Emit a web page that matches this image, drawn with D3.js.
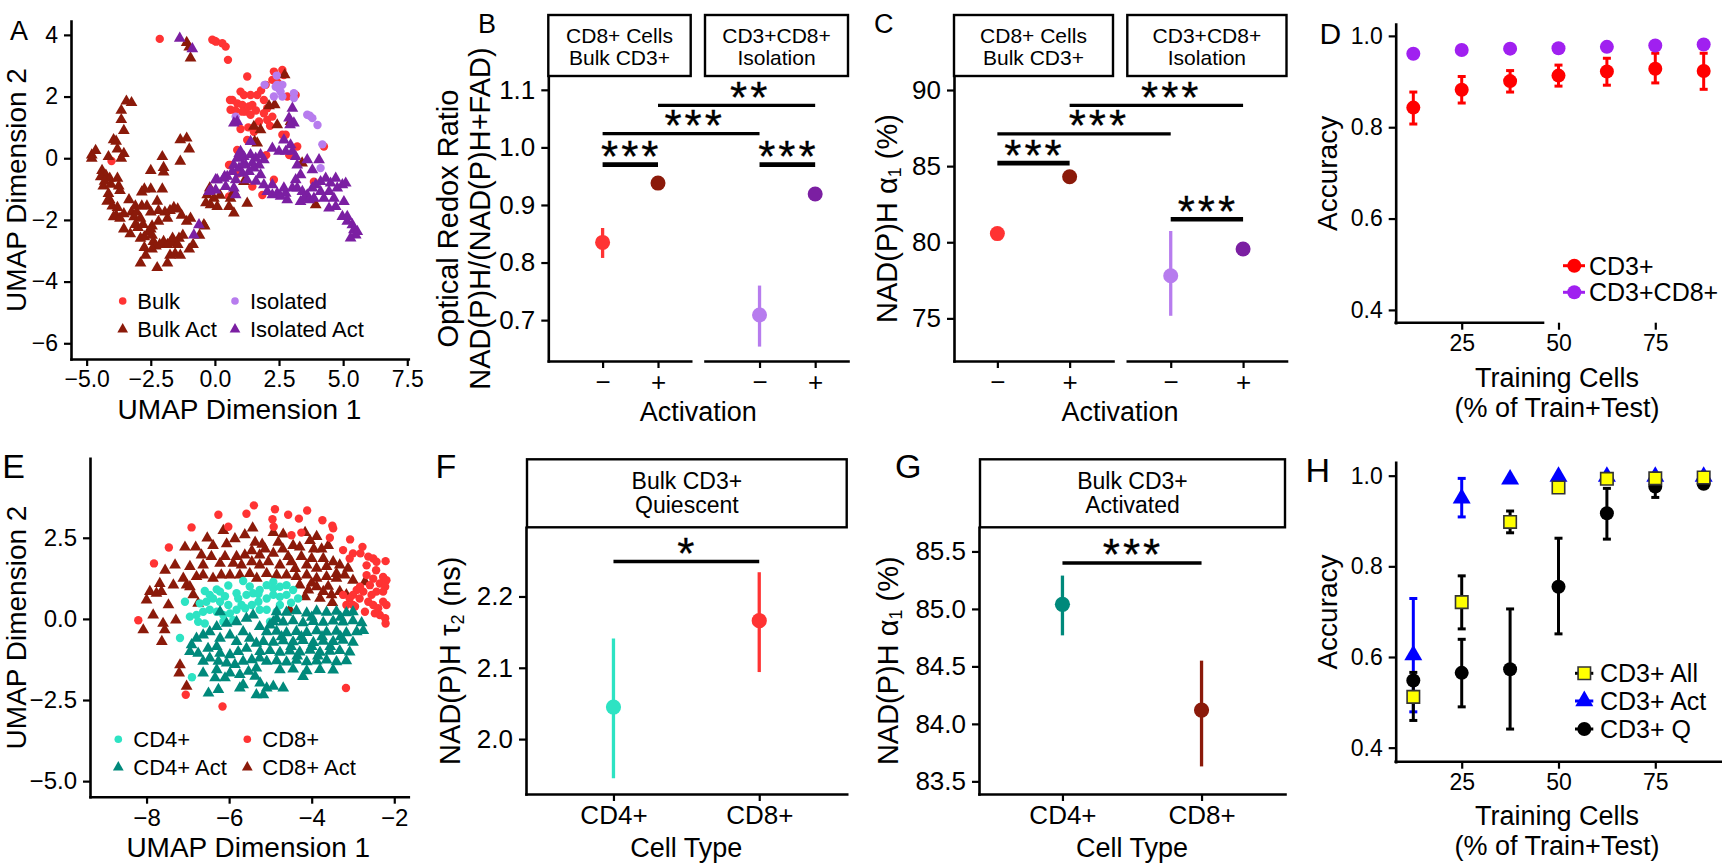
<!DOCTYPE html>
<html><head><meta charset="utf-8">
<script src="https://cdn.jsdelivr.net/npm/d3@7"></script>
<style>
body{margin:0;background:#fff}
svg{display:block}
text{font-family:"Liberation Sans",Arial,Helvetica,sans-serif;fill:#000}
</style></head>
<body><svg id="c" width="1722" height="865"></svg>
<script>
// ================= DATA =================
// Panel A: UMAP (x, y)
const aBulk = [[-2.15,3.87],[-0.1,3.84],[0.0,3.8],[0.05,3.78],[0.29,3.73],[0.42,3.62],[0.51,3.19],[1.26,2.65],[2.3,2.81],[2.63,2.86],[2.69,2.7],[2.24,2.54],[1.98,2.38],[1.0,2.16],[1.13,2.05],[1.39,2.05],[1.65,2.05],[0.68,1.89],[0.87,1.78],[1.07,1.73],[1.33,1.68],[1.46,1.73],[1.2,1.51],[1.39,1.41],[1.91,1.89],[2.04,1.62],[1.91,1.46],[2.04,1.24],[2.24,1.35],[2.82,2.0],[3.15,2.05],[2.63,0.76],[2.76,0.76],[1.26,0.59],[3.21,0.38],[0.87,0.27],[0.61,-0.22],[1.46,-0.92],[1.85,-1.19],[2.3,-0.7],[3.86,-0.76],[4.25,0.38],[1.07,1.51],[1.72,1.19],[1.52,0.86],[0.59,1.89],[0.61,1.57],[-4.03,-0.09],[0.55,-0.22],[0.55,-1.24],[1.8,2.2],[2.45,2.45],[0.8,1.55],[1.6,1.55],[2.15,1.05],[2.9,0.1],[1.0,0.95],[1.3,1.0],[0.9,-0.5],[2.0,0.1]];
const aBulkAct = [[-1.0,3.6],[-0.95,3.25],[-1.1,3.75],[-3.45,1.85],[-3.25,1.8],[-3.65,1.55],[-3.65,1.25],[-3.55,0.9],[-3.95,0.6],[-3.85,0.55],[-3.8,0.3],[-3.55,0.15],[-3.65,0.0],[-4.15,0.05],[-4.8,0.1],[-4.65,0.25],[-4.8,0.0],[-4.4,-0.4],[-4.25,-0.55],[-4.45,-0.6],[-4.1,-0.65],[-4.35,-0.9],[-3.8,-0.65],[-3.75,-0.9],[-3.7,-1.05],[-4.15,-1.15],[-4.1,-1.35],[-4.2,-1.4],[-4.0,-1.55],[-3.8,-1.6],[-3.85,-1.85],[-3.95,-1.9],[-3.7,-1.95],[-3.55,-1.8],[-3.35,-1.35],[-3.25,-1.75],[-3.15,-1.9],[-3.05,-1.75],[-2.85,-1.55],[-2.85,-1.1],[-2.65,-1.55],[-2.5,-1.75],[-3.55,-2.3],[-3.3,-2.45],[-3.1,-2.15],[-3.0,-2.25],[-2.8,-2.15],[-2.9,-2.6],[-2.75,-2.55],[-2.6,-2.4],[-2.5,-2.3],[-2.45,-2.5],[-2.4,-2.7],[-2.3,-2.85],[-2.15,-2.8],[-2.0,-2.7],[-1.85,-2.8],[-1.75,-2.75],[-1.6,-2.7],[-1.45,-2.8],[-1.4,-2.6],[-1.25,-2.5],[-1.65,-2.6],[-1.1,-2.05],[-0.95,-1.95],[-1.3,-1.85],[-1.45,-1.65],[-1.6,-1.6],[-1.75,-1.7],[-1.95,-1.75],[-2.2,-1.7],[-2.25,-1.4],[-2.05,-1.0],[-2.5,-1.0],[-2.75,-1.0],[-2.5,-0.4],[-2.05,0.05],[-2.0,-0.3],[-2.0,-0.45],[-1.35,-0.1],[-1.0,0.3],[-1.35,0.6],[-1.1,0.65],[-2.75,-2.9],[-2.7,-3.15],[-2.9,-3.4],[-2.25,-3.55],[-1.85,-3.4],[-1.75,-3.15],[-1.0,-2.95],[-0.85,-2.8],[-0.4,-2.2],[-0.6,-2.5],[-1.35,-3.15],[-1.55,-3.1],[-2.45,-2.95],[-2.45,-2.2],[-2.2,-2.05],[-1.85,-1.95],[-2.9,-1.95],[-3.1,-1.55],[-4.3,-0.75],[-4.05,-0.85],[2.72,2.7],[2.11,1.7],[2.33,1.73],[1.52,1.03],[1.78,0.92],[2.43,1.08],[1.55,0.54],[1.65,0.49],[2.95,1.19],[3.4,-0.16],[-0.2,-0.97],[-0.3,-1.19],[-0.04,-1.3],[-0.17,-1.51],[0.09,-1.57],[0.55,-1.57],[0.61,-1.3],[0.74,-1.78],[1.26,-1.46],[1.13,-0.76],[0.74,-1.08],[3.93,-1.51],[-0.43,-2.16],[0.2,-1.2],[-0.35,-1.45]];
const aIso = [[2.41,2.68],[1.94,2.38],[2.37,2.32],[2.63,2.38],[2.3,2.0],[2.63,2.0],[3.08,2.11],[3.08,1.95],[3.6,1.41],[3.8,1.3],[4.0,1.08],[4.19,0.45],[4.12,-0.32],[0.81,1.35],[2.56,2.16],[2.43,2.38],[2.5,2.25],[3.7,1.38]];
const aIsoAct = [[-1.37,3.89],[-0.88,3.55],[-0.62,-2.16],[-0.82,-2.49],[-0.17,-1.03],[0.03,-0.7],[0.38,-0.59],[0.87,1.19],[0.74,1.14],[3.02,1.62],[2.89,1.3],[3.08,1.14],[2.93,1.08],[1.39,0.54],[2.69,0.59],[2.95,0.43],[2.24,0.32],[2.5,0.22],[2.76,0.22],[3.02,0.22],[3.15,0.05],[3.21,-0.22],[3.6,-0.05],[4.06,-0.05],[3.8,-0.38],[3.34,-0.54],[3.15,-0.7],[1.0,0.22],[0.87,0.0],[1.13,0.05],[1.39,0.11],[1.59,0.0],[1.78,0.11],[1.91,-0.05],[0.74,-0.22],[0.94,-0.32],[1.2,-0.22],[1.46,-0.16],[1.72,-0.22],[0.68,-0.43],[1.07,-0.49],[1.33,-0.43],[1.52,-0.32],[1.78,-0.54],[0.48,-0.59],[0.35,-0.65],[0.09,-0.7],[0.81,-0.7],[0.42,-0.92],[0.74,-0.97],[0.81,-1.19],[0.03,-1.03],[-0.23,-1.08],[1.91,-0.86],[2.24,-0.86],[2.43,-1.14],[2.76,-1.14],[2.69,-0.97],[3.02,-0.97],[3.21,-0.97],[3.41,-1.08],[3.34,-1.41],[3.6,-1.19],[3.8,-0.97],[3.93,-0.86],[4.12,-0.76],[4.32,-0.65],[4.51,-0.81],[4.71,-0.65],[4.97,-0.86],[5.1,-0.81],[4.77,-0.97],[4.45,-1.08],[4.12,-1.08],[4.25,-1.3],[4.64,-1.3],[4.71,-1.57],[4.45,-1.62],[5.03,-1.41],[4.97,-1.89],[5.16,-2.05],[5.36,-2.16],[5.42,-2.32],[5.49,-2.49],[5.29,-2.59],[5.55,-2.38],[5.16,-1.89],[3.47,-1.3],[3.67,-1.35],[3.86,-1.3],[2.82,-1.35],[2.56,-1.24],[2.24,-1.19],[2.04,-1.08],[1.25,-0.7],[1.6,-0.75],[1.1,-0.2],[0.95,0.15]];

// Panel B: optical redox ratio, facets x activation (-, +)
const bFacets = [["CD8+ Cells","Bulk CD3+"],["CD3+CD8+","Isolation"]];
const activation = ["\u2212","+"];
const bMean = [[0.835,0.938],[0.709,0.919]];
const bLow  = [[0.808,0.936],[0.654,0.917]];
const bHigh = [[0.860,0.940],[0.760,0.921]];
const bSig = [{a:[0,1],b:[0,2],y:0.970,lab:"***"},{a:[0,1],b:[1,1],y:1.024,lab:"***"},{a:[0,2],b:[1,2],y:1.073,lab:"**"},{a:[1,1],b:[1,2],y:0.970,lab:"***"}];

// Panel C: NAD(P)H alpha1 (%)
const cMean = [[80.57,84.30],[77.80,79.56]];
const cLow  = [[80.40,84.15],[75.17,79.45]];
const cHigh = [[80.74,84.45],[80.74,79.67]];
const cSig = [{a:[0,1],b:[0,2],y:85.2,lab:"***"},{a:[0,1],b:[1,1],y:87.12,lab:"***"},{a:[0,2],b:[1,2],y:88.99,lab:"***"},{a:[1,1],b:[1,2],y:81.51,lab:"***"}];

// Panel D: accuracy vs training cells
const trainPct = [12.5,25,37.5,50,62.5,75,87.5];
const dCD3   = [0.843,0.882,0.901,0.913,0.922,0.928,0.923];
const dCD3Lo = [0.807,0.853,0.877,0.890,0.892,0.897,0.883];
const dCD3Hi = [0.877,0.911,0.924,0.936,0.951,0.962,0.962];
const dCD8   = [0.961,0.969,0.972,0.973,0.976,0.979,0.981];
const dCD8Lo = [0.958,0.967,0.970,0.971,0.974,0.977,0.978];
const dCD8Hi = [0.964,0.971,0.974,0.975,0.978,0.981,0.984];

// Panel E: UMAP
const eCD4 = [[-5.66,1.17],[-6.02,1.03],[-6.22,0.84],[-6.3,0.91],[-6.59,0.86],[-6.47,0.74],[-7.07,0.53],[-6.71,0.48],[-6.55,0.53],[-6.39,0.63],[-6.22,0.53],[-6.02,0.43],[-5.82,0.79],[-5.78,0.63],[-5.58,0.74],[-5.42,0.79],[-5.26,0.89],[-5.09,1.04],[-4.93,0.94],[-4.77,0.99],[-4.61,1.04],[-4.45,0.89],[-4.33,0.63],[-4.61,0.74],[-4.77,0.68],[-4.93,0.74],[-5.09,0.63],[-5.29,0.53],[-5.45,0.43],[-5.61,0.33],[-5.82,0.28],[-5.98,0.17],[-6.14,0.12],[-6.3,0.22],[-6.47,0.28],[-6.63,0.22],[-6.79,0.12],[-6.95,0.07],[-6.75,-0.09],[-6.59,-0.14],[-6.14,-0.09],[-5.9,-0.04],[-5.01,-0.09],[-4.77,0.43],[-4.85,0.22],[-5.09,0.28],[-5.26,0.28],[-7.19,-0.59],[-4.93,1.14],[-5.29,0.77],[-5.7,0.43],[-6.1,0.7],[-5.5,1.0],[-4.5,0.5],[-6.9,-1.8]];
const eCD4Act = [[-4.85,0.22],[-4.61,0.2],[-4.37,0.25],[-4.12,0.18],[-3.88,0.24],[-3.64,0.2],[-3.4,0.23],[-3.16,0.19],[-3.0,0.22],[-4.93,-0.09],[-4.69,-0.1],[-4.45,-0.06],[-4.21,-0.12],[-3.96,-0.08],[-3.72,-0.11],[-3.48,-0.07],[-3.24,-0.1],[-3.0,-0.06],[-2.79,-0.12],[-5.09,-0.4],[-4.85,-0.38],[-4.61,-0.43],[-4.37,-0.39],[-4.12,-0.42],[-3.88,-0.37],[-3.64,-0.41],[-3.4,-0.38],[-3.16,-0.43],[-2.91,-0.4],[-2.75,-0.36],[-5.17,-0.7],[-4.93,-0.72],[-4.69,-0.68],[-4.45,-0.71],[-4.21,-0.67],[-3.96,-0.73],[-3.72,-0.69],[-3.48,-0.7],[-3.24,-0.66],[-3.0,-0.72],[-5.25,-1.01],[-5.01,-0.98],[-4.77,-1.03],[-4.53,-0.99],[-4.29,-1.02],[-4.04,-0.97],[-3.8,-1.03],[-3.56,-1.0],[-3.32,-0.98],[-3.08,-1.02],[-5.09,-1.31],[-4.85,-1.29],[-4.61,-1.33],[-4.37,-1.28],[-4.12,-1.32],[-3.88,-1.3],[-3.64,-1.27],[-3.4,-1.32],[-3.16,-1.29],[-4.77,-1.57],[-4.45,-1.55],[-4.12,-1.6],[-3.8,-1.56],[-3.48,-1.58],[-4.21,-1.78],[-4.73,-0.55],[-4.25,-0.55],[-3.75,-0.55],[-3.3,-0.55],[-4.5,-0.85],[-4.0,-0.85],[-3.55,-0.85],[-4.35,-1.15],[-3.85,-1.15],[-4.85,0.0],[-4.0,0.05],[-3.3,0.05],[-6.22,0.22],[-6.06,-0.14],[-5.82,-0.09],[-5.58,0.02],[-5.42,0.12],[-5.26,-0.24],[-6.3,-0.24],[-6.47,-0.4],[-6.63,-0.5],[-6.79,-0.6],[-6.91,-0.8],[-6.95,-1.01],[-6.75,-1.06],[-6.51,-0.91],[-6.3,-0.85],[-6.22,-0.6],[-5.98,-0.5],[-5.82,-0.7],[-5.66,-0.4],[-5.5,-0.6],[-5.34,-0.75],[-5.58,-0.91],[-5.78,-1.01],[-5.98,-1.11],[-6.22,-1.06],[-6.47,-1.21],[-6.63,-1.31],[-6.26,-1.31],[-6.06,-1.36],[-5.86,-1.41],[-5.66,-1.31],[-5.45,-1.26],[-5.26,-1.21],[-5.34,-1.52],[-5.53,-1.62],[-5.74,-1.72],[-5.98,-1.67],[-6.3,-1.57],[-6.63,-1.67],[-6.34,-1.82],[-6.1,-1.82],[-5.66,-2.03],[-5.37,-1.77],[-5.25,-1.98],[-5.09,-2.13],[-4.93,-2.08],[-4.69,-2.13],[-5.17,-2.34],[-5.34,-2.34],[-6.26,-2.18],[-6.5,-2.29],[-5.74,-2.13],[-5.01,-0.19]];
const eCD8 = [[-5.4,3.5],[-6.26,3.21],[-5.58,3.24],[-4.89,3.38],[-4.57,3.21],[-4.31,3.09],[-4.11,3.34],[-4.95,3.07],[-3.74,3.04],[-3.5,2.87],[-3.48,2.79],[-6.02,2.84],[-6.91,2.82],[-7.46,2.2],[-7.82,1.71],[-4.92,2.84],[-4.25,2.66],[-4.49,2.58],[-3.56,2.5],[-3.07,2.45],[-2.77,2.22],[-3.24,2.12],[-3.0,2.02],[-2.82,2.02],[-2.63,1.92],[-2.51,1.86],[-2.21,1.78],[-3.08,1.86],[-2.67,1.65],[-2.44,1.5],[-2.27,1.29],[-2.35,1.09],[-2.19,1.19],[-2.51,1.24],[-2.22,0.99],[-2.27,0.84],[-2.43,0.84],[-2.59,1.04],[-2.75,0.84],[-2.91,0.89],[-3.0,0.74],[-2.84,0.63],[-2.63,0.53],[-2.51,0.43],[-2.39,0.33],[-2.27,0.53],[-2.19,0.43],[-2.35,0.12],[-2.22,0.02],[-2.47,0.17],[-2.71,0.22],[-3.08,0.63],[-3.24,0.74],[-3.16,0.43],[-2.95,0.38],[-2.21,-0.14],[-2.83,0.99],[-2.67,1.35],[-2.43,1.76],[-8.2,-0.04],[-7.05,-2.34],[-6.16,-2.7],[-3.17,-2.13],[-2.55,0.74],[-3.0,0.43]];
const eCD8Act = [[-5.43,2.8],[-6.14,2.72],[-6.53,2.49],[-7.07,2.21],[-6.81,2.21],[-6.39,2.26],[-5.86,2.47],[-5.62,2.59],[-5.37,2.36],[-6.06,2.31],[-4.93,2.66],[-4.69,2.61],[-4.16,2.66],[-3.88,2.54],[-4.81,2.36],[-4.45,2.26],[-4.29,2.21],[-4.04,2.41],[-3.76,2.15],[-3.6,2.26],[-5.13,2.15],[-5.45,2.1],[-6.67,1.97],[-6.43,1.92],[-6.1,1.92],[-5.82,1.92],[-5.62,1.97],[-5.26,1.97],[-4.93,2.02],[-4.57,1.92],[-4.25,1.92],[-4.0,1.86],[-3.72,1.86],[-3.48,1.76],[-3.32,1.66],[-3.12,1.56],[-7.31,1.66],[-7.55,1.5],[-6.95,1.61],[-6.63,1.66],[-6.22,1.71],[-5.9,1.71],[-5.7,1.66],[-5.45,1.76],[-5.26,1.66],[-5.05,1.76],[-4.77,1.66],[-4.49,1.76],[-4.12,1.66],[-3.88,1.56],[-3.64,1.61],[-3.4,1.4],[-7.68,1.09],[-7.92,0.84],[-8.0,0.58],[-7.76,0.79],[-7.35,1.04],[-7.11,1.25],[-7.03,1.04],[-6.79,1.3],[-6.63,1.35],[-6.39,1.25],[-6.19,1.35],[-5.98,1.35],[-5.74,1.35],[-5.5,1.4],[-5.33,1.25],[-5.09,1.4],[-4.85,1.35],[-4.61,1.35],[-4.37,1.3],[-4.12,1.35],[-3.88,1.25],[-3.64,1.3],[-3.4,1.25],[-3.2,1.35],[-3.0,1.19],[-2.71,1.14],[-4.29,1.04],[-4.08,0.89],[-3.88,0.99],[-3.72,0.84],[-3.52,0.74],[-3.32,0.84],[-3.16,0.74],[-3.8,0.63],[-4.16,0.68],[-4.53,0.28],[-6.95,0.99],[-6.87,0.74],[-6.75,0.48],[-7.47,0.43],[-7.84,0.12],[-7.29,-0.04],[-7.6,-0.14],[-7.56,-0.34],[-8.08,-0.34],[-7.63,-0.7],[-7.19,-1.42],[-7.21,-1.67],[-7.03,-2.08],[-7.64,0.84],[-4.0,1.1],[-3.6,1.0],[-4.4,1.55],[-5.2,2.3],[-3.95,2.15],[-4.7,2.15],[-3.5,0.5]];

// Panel F: NAD(P)H tau2 (ns), Bulk CD3+ quiescent
const cellTypes = ["CD4+","CD8+"];
const fMean = [2.045,2.166];
const fLow  = [1.945,2.094];
const fHigh = [2.141,2.234];
const fSig = [{a:1,b:2,y:2.249,lab:"*"}];

// Panel G: NAD(P)H alpha1 (%), Bulk CD3+ activated
const gMean = [85.04,84.12];
const gLow  = [84.77,83.63];
const gHigh = [85.29,84.55];
const gSig = [{a:1,b:2,y:85.40,lab:"***"}];

// Panel H: accuracy vs training cells
const hAll   = [0.512,0.721,0.898,0.974,0.993,0.994,0.996];
const hAllLo = [0.500,0.662,0.874,0.965,0.986,0.990,0.991];
const hAllHi = [0.524,0.779,0.922,0.983,1.000,0.998,1.000];
const hAct   = [0.604,0.950,0.992,0.998,0.998,0.998,0.998];
const hActLo = [0.479,0.909,0.990,0.996,0.996,0.996,0.996];
const hActHi = [0.729,0.994,0.994,1.000,1.000,1.000,1.000];
const hQ     = [0.548,0.565,0.573,0.755,0.917,0.976,0.982];
const hQLo   = [0.460,0.490,0.441,0.651,0.860,0.952,0.976];
const hQHi   = [0.566,0.639,0.706,0.862,0.972,0.990,0.988];

// ================= STYLE =================
const RED="#FF3333", DRED="#8B1A0A", LPUR="#B77CEE", PUR="#7B1FA2",
      TURQ="#2DE3C3", TEAL="#00897B", DREDP="#FF0000", DPUR="#A020F0",
      YEL="#FFFF00", BLUE="#0000FF", BLK="#000000";
const FONT='"Liberation Sans", Arial, Helvetica, sans-serif';
const svg = d3.select("#c");
svg.append("rect").attr("width",1722).attr("height",865).attr("fill","#fff");

function styleAxis(g, fs){
  g.attr("font-family",FONT).attr("font-size",fs);
  g.select(".domain").attr("stroke","#000").attr("stroke-width",2.6).attr("stroke-linecap","square");
  g.selectAll(".tick line").attr("stroke","#000").attr("stroke-width",2.2);
  g.selectAll(".tick text").attr("fill","#000");
}
function axisLeft(scale, x, ticks, fmt, fs){
  const g = svg.append("g").attr("transform",`translate(${x},0)`)
    .call(d3.axisLeft(scale).tickValues(ticks).tickFormat(fmt).tickSize(7).tickSizeOuter(0).tickPadding(6));
  styleAxis(g, fs); return g;
}
function axisBottom(scale, y, ticks, fmt, fs){
  const g = svg.append("g").attr("transform",`translate(0,${y})`)
    .call(d3.axisBottom(scale).tickValues(ticks).tickFormat(fmt).tickSize(7).tickSizeOuter(0).tickPadding(5));
  styleAxis(g, fs); return g;
}
function txt(x,y,s,fs,anchor,rot){
  const t = svg.append("text").attr("x",x).attr("y",y).attr("font-size",fs)
    .attr("text-anchor",anchor||"start").text(s);
  if(rot) t.attr("transform",`rotate(${rot},${x},${y})`);
  return t;
}
function rotTitle(x,y,parts,fs){
  const t = svg.append("text").attr("x",x).attr("y",y).attr("font-size",fs)
    .attr("text-anchor","middle").attr("transform",`rotate(-90,${x},${y})`);
  parts.forEach(p=>{
    const ts = t.append("tspan").text(p[0]);
    if(p[1]==="sub") ts.attr("font-size",fs*0.62).attr("baseline-shift","-22%");
  });
  return t;
}
const tri = (area)=>d3.symbol(d3.symbolTriangle, area)();
const sqr = (area)=>d3.symbol(d3.symbolSquare, area)();
function scatter(data,x,y,shape,color,r){
  const g = svg.append("g");
  if(shape==="circle"){
    g.selectAll("circle").data(data).join("circle")
      .attr("cx",d=>x(d[0])).attr("cy",d=>y(d[1])).attr("r",r).attr("fill",color);
  } else {
    g.selectAll("path").data(data).join("path")
      .attr("d",tri(r)).attr("transform",d=>`translate(${x(d[0])},${y(d[1])})`).attr("fill",color);
  }
}
function strip(x0,x1,y0,y1,lines,fs,b1,b2){
  svg.append("rect").attr("x",x0).attr("y",y0).attr("width",x1-x0).attr("height",y1-y0)
    .attr("fill","#fff").attr("stroke","#000").attr("stroke-width",2.4);
  txt((x0+x1)/2,b1,lines[0],fs,"middle");
  txt((x0+x1)/2,b2,lines[1],fs,"middle");
}
function sigBar(xa,xb,yb,lab,thick,frac){
  svg.append("line").attr("x1",xa).attr("x2",xb).attr("y1",yb).attr("y2",yb)
    .attr("stroke","#000").attr("stroke-width",thick);
  const fs=44;
  svg.append("text").attr("x",xa+(xb-xa)*frac+1).attr("y",yb-18+0.58*fs)
    .attr("font-size",fs).attr("text-anchor","middle").attr("letter-spacing",3)
    .attr("stroke","#000").attr("stroke-width",0.3).text(lab);
}
function vbar(x,y0,y1,color,w){
  svg.append("line").attr("x1",x).attr("x2",x).attr("y1",y0).attr("y2",y1)
    .attr("stroke",color).attr("stroke-width",w);
}
function capbar(x,y0,y1,color,w,cap){
  vbar(x,y0,y1,color,w);
  [y0,y1].forEach(yy=>svg.append("line").attr("x1",x-cap/2).attr("x2",x+cap/2).attr("y1",yy).attr("y2",yy)
    .attr("stroke",color).attr("stroke-width",w));
}
const f1 = d3.format(".1f");
const PT_TRI = 60, PT_R = 4.2;

// ================= PANEL A =================
{
  const x = d3.scaleLinear().domain([-5.61,7.54]).range([71,408.3]);
  const y = d3.scaleLinear().domain([-6.51,4.45]).range([359,21]);
  scatter(aBulk,x,y,"circle",RED,PT_R);
  scatter(aBulkAct,x,y,"tri",DRED,PT_TRI);
  scatter(aIso,x,y,"circle",LPUR,PT_R);
  scatter(aIsoAct,x,y,"tri",PUR,PT_TRI);
  axisLeft(y,71,[-6,-4,-2,0,2,4],d3.format("d"),23);
  axisBottom(x,359,[-5,-2.5,0,2.5,5,7.5],f1,23);
  txt(239.5,419.3,"UMAP Dimension 1",28,"middle");
  txt(26,190,"UMAP Dimension 2",28,"middle",-90);
  txt(10,40,"A",27);
  const lg=[["Bulk","circle",RED,122.7,301,137.3],["Isolated","circle",LPUR,235,301,250],
            ["Bulk Act","tri",DRED,122.7,329.3,137.3],["Isolated Act","tri",PUR,235,329.3,250]];
  lg.forEach(l=>{
    if(l[1]==="circle") svg.append("circle").attr("cx",l[3]).attr("cy",l[4]).attr("r",3.8).attr("fill",l[2]);
    else svg.append("path").attr("d",tri(50)).attr("transform",`translate(${l[3]},${l[4]})`).attr("fill",l[2]);
    txt(l[5],l[4]+7.5,l[0],22);
  });
}

// ================= FACETED DOT PANELS (B, C) =================
function facetPanel(opt){
  const facX = opt.facets;
  const y = d3.scaleLinear().domain(opt.ydom).range([opt.yb,opt.yt]);
  const xs = facX.map(f=>d3.scaleLinear().domain(opt.xdom).range(f));
  facX.forEach((f,i)=>strip(f[0],f[1],15,opt.yt,opt.stripTxt[i],21,42.5,64.5));
  axisLeft(y,facX[0][0],opt.yticks,opt.yfmt,26);
  xs.forEach(x=>axisBottom(x,opt.yb,[1,2],d=>activation[d-1],26));
  opt.sig.forEach(s=>{
    const same = s.a[0]===s.b[0];
    sigBar(xs[s.a[0]](s.a[1]),xs[s.b[0]](s.b[1]),y(s.y),s.lab,same?4.6:3.2,same?0.5:0.58);
  });
  for(let i=0;i<2;i++) for(let j=0;j<2;j++){
    const cx=xs[i](j+1);
    vbar(cx,y(opt.lo[i][j]),y(opt.hi[i][j]),opt.colors[i][j],3.3);
    svg.append("circle").attr("cx",cx).attr("cy",y(opt.mean[i][j])).attr("r",7.5).attr("fill",opt.colors[i][j]);
  }
}
facetPanel({facets:[[548.3,690.7],[705,848]],xdom:[0.02,2.59],ydom:[0.629,1.124],yt:76,yb:361,
  yticks:[0.7,0.8,0.9,1.0,1.1],yfmt:f1,stripTxt:bFacets,sig:bSig,mean:bMean,lo:bLow,hi:bHigh,
  colors:[[RED,DRED],[LPUR,PUR]]});
txt(458,218.5,"Optical Redox Ratio",29,"middle",-90);
txt(490,218.5,"NAD(P)H/(NAD(P)H+FAD)",29,"middle",-90);
txt(698.3,420.7,"Activation",27,"middle");
txt(478,33.3,"B",27);

facetPanel({facets:[[954,1113],[1127.3,1286.5]],xdom:[0.4,2.6],ydom:[72.2,90.92],yt:76,yb:361,
  yticks:[75,80,85,90],yfmt:d3.format("d"),stripTxt:bFacets,sig:cSig,mean:cMean,lo:cLow,hi:cHigh,
  colors:[[RED,DRED],[LPUR,PUR]]});
rotTitle(897,218.5,[["NAD(P)H "],["\u03B1"],["1","sub"],[" (%)"]],29);
txt(1120,420.7,"Activation",27,"middle");
txt(874,33.3,"C",27);

// ================= PANEL D =================
{
  const x = d3.scaleLinear().domain([7.95,91.2]).range([1395.7,1718]);
  const y = d3.scaleLinear().domain([0.372,1.026]).range([322.7,24]);
  axisLeft(y,1395.7,[0.4,0.6,0.8,1.0],f1,23);
  const gx = axisBottom(x,322.7,[25,50,75],d3.format("d"),23);
  gx.select(".domain").attr("d",`M${x(7.95)},0H${x(46)}`);
  trainPct.forEach((p,i)=>{
    capbar(x(p),y(dCD3Lo[i]),y(dCD3Hi[i]),DREDP,3,8);
    svg.append("circle").attr("cx",x(p)).attr("cy",y(dCD3[i])).attr("r",7).attr("fill",DREDP);
  });
  trainPct.forEach((p,i)=>{
    capbar(x(p),y(dCD8Lo[i]),y(dCD8Hi[i]),DPUR,3,8);
    svg.append("circle").attr("cx",x(p)).attr("cy",y(dCD8[i])).attr("r",7).attr("fill",DPUR);
  });
  [["CD3+",DREDP,265.7],["CD3+CD8+",DPUR,292.3]].forEach(l=>{
    svg.append("line").attr("x1",1563).attr("x2",1585).attr("y1",l[2]).attr("y2",l[2]).attr("stroke",l[1]).attr("stroke-width",3);
    svg.append("circle").attr("cx",1574.3).attr("cy",l[2]).attr("r",7).attr("fill",l[1]);
    txt(1589,l[2]+8.8,l[0],25);
  });
  txt(1337,173.4,"Accuracy",28,"middle",-90);
  txt(1557,386.7,"Training Cells",27,"middle");
  txt(1557,416.7,"(% of Train+Test)",27,"middle");
  txt(1319.5,44.3,"D",30);
}

// ================= PANEL E =================
{
  const x = d3.scaleLinear().domain([-9.37,-1.66]).range([90,408.3]);
  const y = d3.scaleLinear().domain([-5.48,4.95]).range([796.7,458.3]);
  scatter(eCD8Act,x,y,"tri",DRED,PT_TRI);
  scatter(eCD8,x,y,"circle",RED,PT_R);
  scatter(eCD4,x,y,"circle",TURQ,PT_R);
  scatter(eCD4Act,x,y,"tri",TEAL,PT_TRI);
  axisLeft(y,90,[-5,-2.5,0,2.5],f1,24);
  axisBottom(x,796.7,[-8,-6,-4,-2],d3.format("d"),24);
  txt(248.3,856.7,"UMAP Dimension 1",28,"middle");
  txt(26,627.5,"UMAP Dimension 2",28,"middle",-90);
  txt(2.3,478.3,"E",34);
  const lg=[["CD4+","circle",TURQ,118.3,739.3,133.3],["CD8+","circle",RED,247.3,739.3,262.3],
            ["CD4+ Act","tri",TEAL,118.3,767.3,133.3],["CD8+ Act","tri",DRED,247.3,767.3,262.3]];
  lg.forEach(l=>{
    if(l[1]==="circle") svg.append("circle").attr("cx",l[3]).attr("cy",l[4]).attr("r",3.8).attr("fill",l[2]);
    else svg.append("path").attr("d",tri(50)).attr("transform",`translate(${l[3]},${l[4]})`).attr("fill",l[2]);
    txt(l[5],l[4]+7.5,l[0],22);
  });
}

// ================= PANELS F, G =================
function twoDot(opt){
  const x = d3.scaleLinear().domain([0.4,2.6]).range([opt.x0,opt.x1]);
  const y = d3.scaleLinear().domain(opt.ydom).range([794,527.3]);
  strip(opt.x0+1,opt.x1,459.3,527.3,opt.strip,23,488.5,513.3);
  axisLeft(y,opt.x0,opt.yticks,f1,26);
  axisBottom(x,794,[1,2],d=>cellTypes[d-1],26);
  opt.sig.forEach(s=>sigBar(x(s.a),x(s.b),y(s.y),s.lab,3.6,0.5));
  [0,1].forEach(i=>{
    vbar(x(i+1),y(opt.lo[i]),y(opt.hi[i]),opt.colors[i],3.3);
    svg.append("circle").attr("cx",x(i+1)).attr("cy",y(opt.mean[i])).attr("r",7.6).attr("fill",opt.colors[i]);
  });
  txt((opt.x0+opt.x1)/2,857,"Cell Type",27,"middle");
}
twoDot({x0:526,x1:846.7,ydom:[1.923,2.297],yticks:[2.0,2.1,2.2],strip:["Bulk CD3+","Quiescent"],
  sig:fSig,mean:fMean,lo:fLow,hi:fHigh,colors:[TURQ,RED]});
rotTitle(460,660.7,[["NAD(P)H "],["\u03C4"],["2","sub"],[" (ns)"]],29);
txt(435.6,478.3,"F",34);
twoDot({x0:979,x1:1285,ydom:[83.39,85.71],yticks:[83.5,84.0,84.5,85.0,85.5],strip:["Bulk CD3+","Activated"],
  sig:gSig,mean:gMean,lo:gLow,hi:gHigh,colors:[TEAL,DRED]});
rotTitle(898,660.7,[["NAD(P)H "],["\u03B1"],["1","sub"],[" (%)"]],29);
txt(895,478.3,"G",34);

// ================= PANEL H =================
{
  const x = d3.scaleLinear().domain([7.95,91.2]).range([1395.7,1718]);
  const y = d3.scaleLinear().domain([0.369,1.0295]).range([761.7,462.3]);
  axisLeft(y,1395.7,[0.4,0.6,0.8,1.0],f1,23);
  const gx = axisBottom(x,761.7,[25,50,75],d3.format("d"),23);
  gx.select(".domain").attr("d",`M${x(7.95)},0H1722`);
  trainPct.forEach((p,i)=>{
    capbar(x(p),y(hActLo[i]),y(hActHi[i]),BLUE,3,8);
    svg.append("path").attr("d",tri(140)).attr("transform",`translate(${x(p)},${y(hAct[i])})`).attr("fill",BLUE);
  });
  trainPct.forEach((p,i)=>{
    capbar(x(p),y(hQLo[i]),y(hQHi[i]),BLK,3,8);
    svg.append("circle").attr("cx",x(p)).attr("cy",y(hQ[i])).attr("r",7).attr("fill",BLK);
  });
  trainPct.forEach((p,i)=>{
    capbar(x(p),y(hAllLo[i]),y(hAllHi[i]),BLK,3,8);
    svg.append("path").attr("d",sqr(155)).attr("transform",`translate(${x(p)},${y(hAll[i])})`)
      .attr("fill",YEL).attr("stroke","#333").attr("stroke-width",1.6);
  });
  const lg=[["CD3+ All",673.3],["CD3+ Act",701],["CD3+ Q",729]];
  svg.append("line").attr("x1",1575).attr("x2",1593.3).attr("y1",lg[0][1]).attr("y2",lg[0][1]).attr("stroke",BLK).attr("stroke-width",3);
  svg.append("path").attr("d",sqr(155)).attr("transform",`translate(1584.3,${lg[0][1]})`).attr("fill",YEL).attr("stroke","#333").attr("stroke-width",1.6);
  svg.append("line").attr("x1",1575).attr("x2",1593.3).attr("y1",lg[1][1]).attr("y2",lg[1][1]).attr("stroke",BLUE).attr("stroke-width",3);
  svg.append("path").attr("d",tri(140)).attr("transform",`translate(1584.3,${lg[1][1]})`).attr("fill",BLUE);
  svg.append("line").attr("x1",1575).attr("x2",1593.3).attr("y1",lg[2][1]).attr("y2",lg[2][1]).attr("stroke",BLK).attr("stroke-width",3);
  svg.append("circle").attr("cx",1584.3).attr("cy",lg[2][1]).attr("r",7).attr("fill",BLK);
  lg.forEach(l=>txt(1600,l[1]+8.8,l[0],25));
  txt(1337,612,"Accuracy",28,"middle",-90);
  txt(1557,825,"Training Cells",27,"middle");
  txt(1557,855,"(% of Train+Test)",27,"middle");
  txt(1305.6,481.7,"H",34);
}
</script></body></html>
